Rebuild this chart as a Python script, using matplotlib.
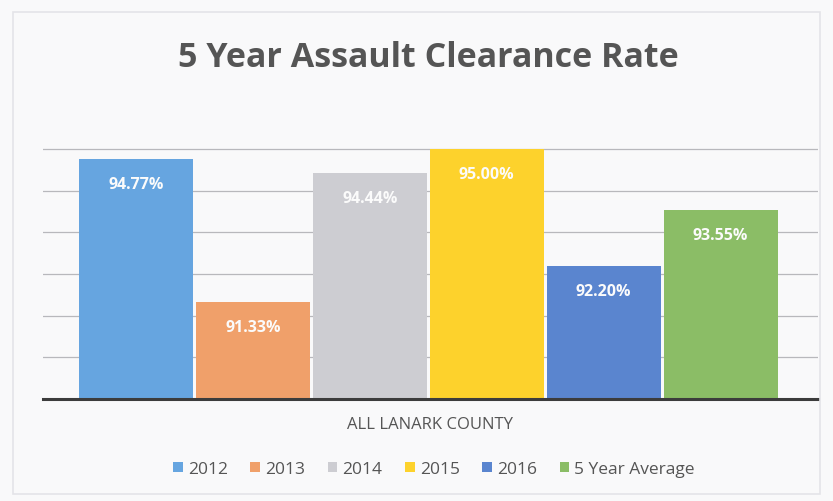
import matplotlib
matplotlib.use("Agg")
import matplotlib.pyplot as plt
from matplotlib.patches import Rectangle

# Daten
series = ["2012", "2013", "2014", "2015", "2016", "5 Year Average"]
rates = [94.77, 91.33, 94.44, 95.00, 92.20, 93.55]
colors = ["#66a5e0", "#f0a06a", "#cdcdd2", "#fdd22c", "#5a85cf", "#8bbd66"]
category = "ALL LANARK COUNTY"
title = "5 Year Assault Clearance Rate"

plt.rcParams["font.family"] = ["Open Sans", "DejaVu Sans"]

fig = plt.figure(figsize=(8.33, 5.02), dpi=100, facecolor="#f9f9fa")
fig.patches.append(Rectangle((0.016, 0.014), 0.968, 0.96, transform=fig.transFigure,
                             fill=False, edgecolor="#e4e4e8", linewidth=1.2))

ax = fig.add_axes([0.0516, 0.2032, 0.930, 0.500])
ax.set_facecolor("none")

x = list(range(len(series)))
bars = ax.bar(x, rates, width=0.975, color=colors, zorder=2)

# Werte in den Balken
for xi, v in zip(x, rates):
    ax.annotate(f"{v:.2f}%", (xi, v), xytext=(0, -18), textcoords="offset points",
                ha="center", va="center", color="#fbfbfb", fontsize=11.5,
                fontweight="bold", zorder=3)

ax.set_ylim(89, 95.03)
ax.set_xlim(-0.795, 5.83)
ax.set_yticks([90, 91, 92, 93, 94, 95])
ax.yaxis.grid(True, color="#b8b8bc", linewidth=0.9, zorder=0)
ax.tick_params(left=False, bottom=False, labelleft=False, labelbottom=False)
for s in ["top", "right", "left"]:
    ax.spines[s].set_visible(False)
ax.spines["bottom"].set_color("#3c3c3c")
ax.spines["bottom"].set_linewidth(2.2)
ax.spines["bottom"].set_zorder(4)

fig.text(0.514, 0.884, title, ha="center", va="center", fontsize=24.5,
         fontweight="bold", color="#555555")
fig.text(0.516, 0.153, category, ha="center", va="center", fontsize=12,
         color="#555555")

leg = fig.legend(bars, series, loc="center", bbox_to_anchor=(0.521, 0.064), ncol=6,
                 frameon=False, fontsize=12.5, handlelength=0.55, handleheight=0.55,
                 handletextpad=0.3, columnspacing=1.3, labelcolor="#555555")

plt.savefig("out.png", dpi=100, facecolor=fig.get_facecolor())
